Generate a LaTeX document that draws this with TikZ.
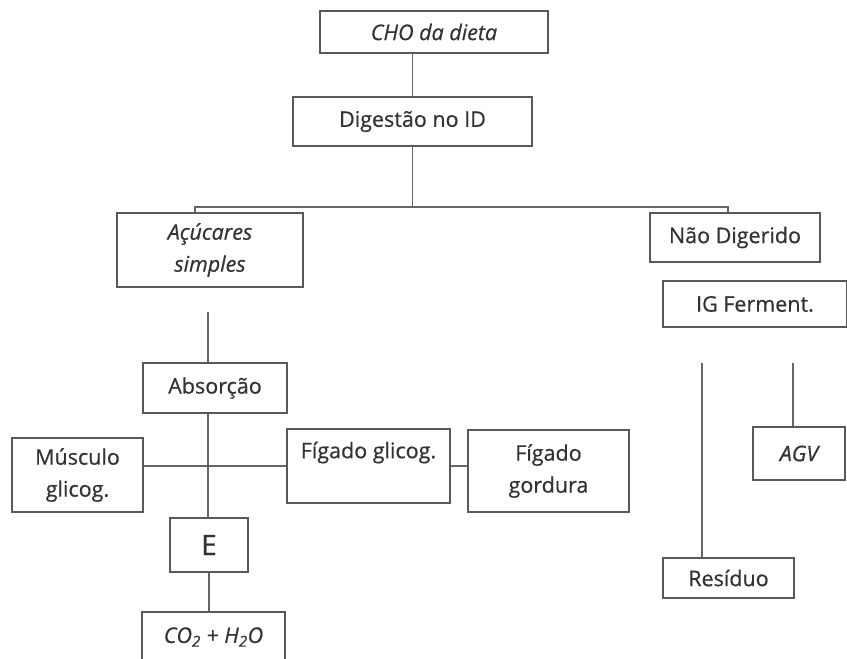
\documentclass[tikz,border=0pt]{standalone}
\usepackage{fontspec}
\setmainfont{Open Sans}[FakeBold=0.6, ItalicFeatures={FakeBold=0.6}]
\usetikzlibrary{positioning}

\begin{document}
\begin{tikzpicture}[x=1pt, y=-1pt,
    box/.style={draw=black!65, line width=1.6pt, fill=white, text=black!80,
                align=center, inner sep=2pt,
                font=\fontsize{21.5}{32}\selectfont},
    link/.style={draw=black!60, line width=1.4pt}]
  \useasboundingbox[fill=white] (0,0) rectangle (847,659);

  % top of the tree
  \node[box, minimum width=228, minimum height=42] (cho) at (434, 32) {\itshape CHO da dieta};
  \node[box, minimum width=239, minimum height=49] (dig) at (412.5, 121.5) {Digestão no ID};

  % the two branches
  \node[box, minimum width=186, minimum height=74] (acu) at (210, 250) {\itshape Açúcares\\\itshape simples};
  \node[box, minimum width=170, minimum height=49] (naodig) at (735, 237.5) {Não Digerido};
  \node[box, minimum width=184, minimum height=46] (igf) at (755, 304) {IG Ferment.};

  % left side
  \node[box, minimum width=144, minimum height=50] (abs) at (215, 388) {Absorção};
  \node[box, minimum width=131, minimum height=74] (musc) at (77.5, 475) {Músculo\\glicog.};
  \node[box, minimum width=163, minimum height=74] (figgli) at (368.5, 466) {Fígado glicog.\\\mbox{}};
  \node[box, minimum width=161, minimum height=82] (figgord) at (548.5, 471) {Fígado\\gordura};
  \node[box, minimum width=78, minimum height=54, font=\fontsize{28}{32}\selectfont] (E) at (209, 545) {E};
  \node[box, minimum width=143, minimum height=50] (co2) at (213.5, 637)
       {\itshape CO\textsubscript{2} + H\textsubscript{2}O};

  % right side
  \node[box, minimum width=92, minimum height=53] (agv) at (799, 453.5) {\itshape AGV};
  \node[box, minimum width=131, minimum height=40] (res) at (728.5, 578) {Resíduo};

  % free ends of the lines
  \coordinate (jl) at (195, 207);
  \coordinate (jr) at (728, 207);
  \coordinate (acuend) at (208, 312);
  \coordinate (rl) at (702, 363);
  \coordinate (rr) at (793, 363);

  % connectors
  \draw[link] (cho.south -| dig.north) -- (dig.north);
  \draw[link] (dig.south) -- (dig.south |- jl);
  \draw[link] (jl |- acu.north) -- (jl) -- (jr) -- (jr |- naodig.north);
  \draw[link] (acuend) -- (acuend |- abs.north);
  \draw[link] (acuend |- abs.south) -- (acuend |- E.north);
  \draw[link] (musc.east |- figgli.west) -- (figgli.west);
  \draw[link] (figgli.east) -- (figgli.east -| figgord.west);
  \draw[link] (E.south) -- (E.south |- co2.north);
  \draw[link] (rl) -- (rl |- res.north);
  \draw[link] (rr) -- (rr |- agv.north);
\end{tikzpicture}
\end{document}
